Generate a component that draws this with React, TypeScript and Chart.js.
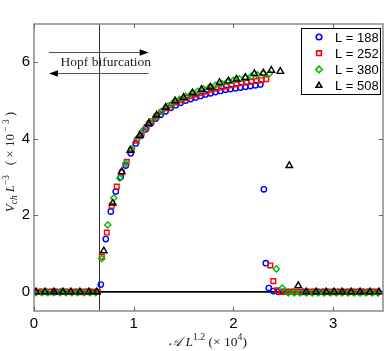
import React, { useEffect, useRef } from 'react';
import { Chart, registerables } from 'chart.js';

Chart.register(...registerables);

// ---------- data ----------
const xTickValues = [0, 1, 2, 3];
const yTickValues = [0, 2, 4, 6];
const hopfX = 0.655;

const seriesLabels = ['L = 188', 'L = 252', 'L = 380', 'L = 508'];

const x188 = [0.02, 0.07, 0.12, 0.17, 0.22, 0.27, 0.32, 0.37, 0.42, 0.47, 0.52, 0.57, 0.62,
  0.67, 0.72, 0.77, 0.82, 0.87, 0.92, 0.97, 1.02, 1.07, 1.12, 1.17, 1.22, 1.27, 1.32, 1.37, 1.42, 1.47, 1.52, 1.57,
  1.62, 1.67, 1.72, 1.77, 1.82, 1.87, 1.92, 1.97, 2.02, 2.07, 2.12, 2.17, 2.22, 2.27,
  2.305, 2.325, 2.355, 2.40,
  2.45, 2.50, 2.55, 2.60, 2.65, 2.70, 2.75, 2.80, 2.85, 2.90, 2.95, 3.00, 3.05, 3.10, 3.15, 3.20, 3.25, 3.30, 3.35, 3.40, 3.45];
const y188 = [0, 0, 0, 0, 0, 0, 0, 0, 0, 0, 0, 0, 0,
  0.19, 1.38, 2.10, 2.62, 3.00, 3.30, 3.62, 3.88, 4.08, 4.25, 4.40, 4.53, 4.63, 4.72, 4.81, 4.88, 4.94, 5.00, 5.04,
  5.08, 5.12, 5.16, 5.19, 5.22, 5.25, 5.28, 5.30, 5.32, 5.34, 5.36, 5.38, 5.40, 5.42,
  2.68, 0.75, 0.10, 0.02,
  0, 0, 0, 0, 0, 0, 0, 0, 0, 0, 0, 0, 0, 0, 0, 0, 0, 0, 0, 0, 0];

const x252 = [0.00, 0.04, 0.08, 0.12, 0.16, 0.20, 0.24, 0.28, 0.32, 0.36, 0.40, 0.44, 0.48, 0.52, 0.56, 0.60, 0.64,
  0.68, 0.73, 0.78, 0.83, 0.88, 0.93, 0.98, 1.03, 1.08, 1.13, 1.18, 1.23, 1.28, 1.33, 1.38, 1.43, 1.48, 1.53, 1.58,
  1.63, 1.68, 1.73, 1.78, 1.83, 1.88, 1.93, 1.98, 2.03, 2.08, 2.13, 2.18, 2.23, 2.28, 2.33,
  2.37, 2.40, 2.44,
  2.48, 2.52, 2.56, 2.60, 2.64, 2.68, 2.72, 2.76, 2.80, 2.84, 2.88, 2.92, 2.96, 3.00, 3.04, 3.08, 3.12, 3.16, 3.20,
  3.24, 3.28, 3.32, 3.36, 3.40, 3.44];
const y252 = [0, 0, 0, 0, 0, 0, 0, 0, 0, 0, 0, 0, 0, 0, 0, 0, 0,
  0.92, 1.55, 2.25, 2.75, 3.12, 3.40, 3.70, 3.95, 4.14, 4.31, 4.46, 4.59, 4.70, 4.80, 4.88, 4.95, 5.01, 5.07, 5.12,
  5.16, 5.20, 5.24, 5.28, 5.31, 5.34, 5.37, 5.40, 5.42, 5.45, 5.47, 5.49, 5.51, 5.53, 5.56,
  0.69, 0.28, 0.04,
  0, 0, 0, 0, 0, 0, 0, 0, 0, 0, 0, 0, 0, 0, 0, 0, 0, 0, 0, 0, 0, 0, 0, 0, 0];

const x380 = [0.02, 0.08, 0.14, 0.20, 0.26, 0.32, 0.38, 0.44, 0.50, 0.56, 0.62,
  0.68, 0.74, 0.80, 0.86, 0.92, 0.98, 1.04, 1.10, 1.16, 1.22, 1.28, 1.34, 1.40, 1.46, 1.52, 1.58, 1.64, 1.70, 1.76,
  1.82, 1.88, 1.94, 2.00, 2.06, 2.12, 2.18, 2.24, 2.30, 2.36,
  2.43, 2.49,
  2.55, 2.61, 2.67, 2.73, 2.79, 2.85, 2.91, 2.97, 3.03, 3.09, 3.15, 3.21, 3.27, 3.33, 3.39, 3.45];
const y380 = [-0.02, -0.02, -0.02, -0.02, -0.02, -0.02, -0.02, -0.02, -0.02, -0.02, -0.02,
  0.87, 1.75, 2.45, 2.97, 3.36, 3.74, 4.02, 4.24, 4.43, 4.58, 4.72, 4.85, 4.95, 5.03, 5.11, 5.18, 5.24, 5.30, 5.35,
  5.40, 5.45, 5.49, 5.53, 5.57, 5.60, 5.64, 5.67, 5.70, 5.70,
  0.60, 0.10,
  -0.03, -0.03, -0.03, -0.03, -0.03, -0.03, -0.03, -0.03, -0.03, -0.03, -0.03, -0.03, -0.03, -0.03, -0.03, -0.03];

const x508 = [0.02, 0.11, 0.20, 0.29, 0.37, 0.46, 0.55, 0.63,
  0.70, 0.79, 0.88, 0.965, 1.06, 1.15, 1.23, 1.32, 1.415, 1.50, 1.59, 1.68, 1.77, 1.86, 1.95, 2.03, 2.12, 2.21,
  2.30, 2.38, 2.47, 2.56, 2.65,
  2.73, 2.83, 2.93, 3.01, 3.09, 3.18, 3.27, 3.37, 3.46];
const y508 = [0, 0, 0, 0, 0, 0, 0, 0,
  1.07, 2.32, 3.14, 3.70, 4.09, 4.40, 4.62, 4.82, 4.99, 5.08, 5.20, 5.29, 5.35, 5.47, 5.51, 5.56, 5.60, 5.70,
  5.72, 5.79, 5.76, 3.30, 0.16,
  0, 0, 0, 0, 0, 0, 0, 0, 0];

const colors = ['#0000ff', '#ff0000', '#00bb00', '#000000'];
const pointStyles = ['circle', 'rect', 'rectRot', 'triangle'];
const pointSizes = [2.7, 3.3, 3.1, 3.8];

const toPoints = (xs: number[], ys: number[]) => xs.map((x, i) => ({ x, y: ys[i] }));

type Part = { t: string; i?: boolean; sup?: boolean; sub?: boolean };

function drawRich(ctx: CanvasRenderingContext2D, parts: Part[], x: number, y: number, size: number, rotate: boolean) {
  const items = parts.map((p) => {
    const fs = p.sup || p.sub ? size * 0.72 : size;
    const font = `${p.i ? 'italic ' : ''}${fs}px "Liberation Serif", serif`;
    ctx.font = font;
    const w = ctx.measureText(p.t).width;
    const dy = p.sup ? -size * 0.42 : p.sub ? size * 0.22 : 0;
    return { ...p, font, w, dy };
  });
  const total = items.reduce((a, b) => a + b.w, 0);
  ctx.save();
  ctx.translate(x, y);
  if (rotate) ctx.rotate(-Math.PI / 2);
  ctx.fillStyle = '#222';
  ctx.textAlign = 'left';
  ctx.textBaseline = 'alphabetic';
  let cx = -total / 2;
  for (const it of items) {
    ctx.font = it.font;
    ctx.fillText(it.t, cx, it.dy);
    cx += it.w;
  }
  ctx.restore();
}

function drawMarker(ctx: CanvasRenderingContext2D, style: string, x: number, y: number, r: number) {
  ctx.beginPath();
  if (style === 'circle') {
    ctx.arc(x, y, r, 0, Math.PI * 2);
  } else if (style === 'rect') {
    const s = r * Math.SQRT1_2;
    ctx.rect(x - s, y - s, 2 * s, 2 * s);
  } else if (style === 'rectRot') {
    ctx.moveTo(x, y - r);
    ctx.lineTo(x + r, y);
    ctx.lineTo(x, y + r);
    ctx.lineTo(x - r, y);
    ctx.closePath();
  } else {
    const half = r * 0.866;
    ctx.moveTo(x, y - r);
    ctx.lineTo(x + half, y + r * 0.5);
    ctx.lineTo(x - half, y + r * 0.5);
    ctx.closePath();
  }
  ctx.stroke();
}

const decorPlugin = {
  id: 'decor',
  beforeDatasetsDraw(chart: any) {
    const { ctx, chartArea: a, scales } = chart;
    const xs = scales.x;
    const ys = scales.y;
    ctx.save();
    // vertical Hopf line
    const hx = Math.round(xs.getPixelForValue(hopfX)) + 0.5;
    ctx.strokeStyle = '#333';
    ctx.lineWidth = 1;
    ctx.beginPath();
    ctx.moveTo(hx, a.top);
    ctx.lineTo(hx, a.bottom);
    ctx.stroke();
    // zero line
    const zy = ys.getPixelForValue(0);
    ctx.strokeStyle = '#000';
    ctx.lineWidth = 1.6;
    ctx.beginPath();
    ctx.moveTo(a.left, zy);
    ctx.lineTo(a.right, zy);
    ctx.stroke();
    // arrows
    const x1 = xs.getPixelForValue(0.15);
    const x2 = xs.getPixelForValue(1.15);
    const yA = Math.round(ys.getPixelForValue(6.28)) + 0.5;
    const yB = Math.round(ys.getPixelForValue(5.71)) + 0.5;
    ctx.strokeStyle = '#555';
    ctx.lineWidth = 1;
    ctx.beginPath();
    ctx.moveTo(x1, yA);
    ctx.lineTo(x2 - 6, yA);
    ctx.moveTo(x1 + 6, yB);
    ctx.lineTo(x2, yB);
    ctx.stroke();
    ctx.fillStyle = '#000';
    ctx.beginPath();
    ctx.moveTo(x2, yA);
    ctx.lineTo(x2 - 9, yA - 3.2);
    ctx.lineTo(x2 - 9, yA + 3.2);
    ctx.closePath();
    ctx.fill();
    ctx.beginPath();
    ctx.moveTo(x1, yB);
    ctx.lineTo(x1 + 9, yB - 3.2);
    ctx.lineTo(x1 + 9, yB + 3.2);
    ctx.closePath();
    ctx.fill();
    ctx.fillStyle = '#222';
    ctx.font = '13.5px "Liberation Serif", serif';
    ctx.textAlign = 'center';
    ctx.textBaseline = 'middle';
    ctx.fillText('Hopf bifurcation', xs.getPixelForValue(0.72), ys.getPixelForValue(5.99));
    ctx.restore();
  },
  afterDraw(chart: any) {
    const { ctx, chartArea: a, scales } = chart;
    const xs = scales.x;
    const ys = scales.y;
    ctx.save();
    // frame
    ctx.strokeStyle = '#8a8a8a';
    ctx.lineWidth = 1.5;
    ctx.strokeRect(a.left, a.top, a.right - a.left, a.bottom - a.top);
    // ticks inside
    ctx.strokeStyle = '#666';
    ctx.lineWidth = 1;
    ctx.beginPath();
    for (const v of xTickValues) {
      const px = Math.round(xs.getPixelForValue(v)) + 0.5;
      ctx.moveTo(px, a.bottom);
      ctx.lineTo(px, a.bottom - 4);
      ctx.moveTo(px, a.top);
      ctx.lineTo(px, a.top + 4);
    }
    for (const v of yTickValues) {
      const py = Math.round(ys.getPixelForValue(v)) + 0.5;
      ctx.moveTo(a.left, py);
      ctx.lineTo(a.left + 4, py);
      ctx.moveTo(a.right, py);
      ctx.lineTo(a.right - 4, py);
    }
    ctx.stroke();
    // legend
    const lx = 301.5, ly = 28.5, lw = 79, lh = 66;
    ctx.fillStyle = '#fff';
    ctx.fillRect(lx, ly, lw, lh);
    ctx.strokeStyle = '#000';
    ctx.lineWidth = 1;
    ctx.strokeRect(lx, ly, lw, lh);
    ctx.font = '13px "Liberation Sans", Arial, sans-serif';
    ctx.textAlign = 'left';
    ctx.textBaseline = 'middle';
    seriesLabels.forEach((lab, i) => {
      const cy = ly + 8.5 + i * 16.2;
      ctx.strokeStyle = colors[i];
      ctx.lineWidth = 1.6;
      drawMarker(ctx, pointStyles[i], 319, cy, i === 0 ? 2.8 : 3.3);
      ctx.fillStyle = '#000';
      ctx.fillText(lab, 335, cy + 1);
    });
    // axis titles
    drawRich(ctx, [
      { t: '𝒜', i: true }, { t: ' ' }, { t: 'L', i: true }, { t: '1.2', sup: true },
      { t: ' (× 10' }, { t: '4', sup: true }, { t: ')' },
    ], 208, 346, 13.5, false);
    drawRich(ctx, [
      { t: 'V', i: true }, { t: 'ch', i: true, sub: true }, { t: ' L', i: true }, { t: '−3', sup: true },
      { t: '   ( × 10' }, { t: ' − 3', sup: true }, { t: ' )' },
    ], 14, 162, 13, true);
    ctx.restore();
  },
};

export default function App() {
  const ref = useRef<HTMLCanvasElement | null>(null);
  useEffect(() => {
    if (!ref.current) return;
    const data = [[x188, y188], [x252, y252], [x380, y380], [x508, y508]];
    const datasets = data.map(([xs, ys], i) => ({
      label: seriesLabels[i],
      data: toPoints(xs, ys),
      showLine: false,
      pointStyle: pointStyles[i],
      pointRadius: pointSizes[i],
      pointBorderWidth: 1.4,
      borderColor: colors[i],
      pointBorderColor: colors[i],
      pointBackgroundColor: 'rgba(0,0,0,0)',
      backgroundColor: 'rgba(0,0,0,0)',
      order: 4 - i,
    }));
    const chart = new Chart(ref.current, {
      type: 'scatter',
      data: { datasets },
      options: {
        animation: false,
        responsive: false,
        layout: { padding: { top: 24, right: 7, left: 0, bottom: 0 } },
        plugins: { legend: { display: false }, tooltip: { enabled: false } },
        scales: {
          x: {
            type: 'linear',
            min: 0,
            max: 3.5,
            grid: { display: false, drawTicks: false },
            border: { display: false },
            afterBuildTicks: (s: any) => { s.ticks = xTickValues.map((v) => ({ value: v })); },
            afterFit: (s: any) => { s.height = 40; },
            ticks: { color: '#000', padding: 4, font: { family: '"Liberation Sans", Arial, sans-serif', size: 15 } },
          },
          y: {
            type: 'linear',
            min: -0.5,
            max: 7,
            grid: { display: false, drawTicks: false },
            border: { display: false },
            afterBuildTicks: (s: any) => { s.ticks = yTickValues.map((v) => ({ value: v })); },
            afterFit: (s: any) => { s.width = 34; },
            ticks: { color: '#000', padding: 4, font: { family: '"Liberation Sans", Arial, sans-serif', size: 15 } },
          },
        },
      },
      plugins: [decorPlugin],
    } as any);
    return () => chart.destroy();
  }, []);
  return (
    <div style={{ position: 'absolute', left: 0, top: 0, width: 390, height: 351, background: '#fff' }}>
      <canvas ref={ref} width={390} height={351} />
    </div>
  );
}
